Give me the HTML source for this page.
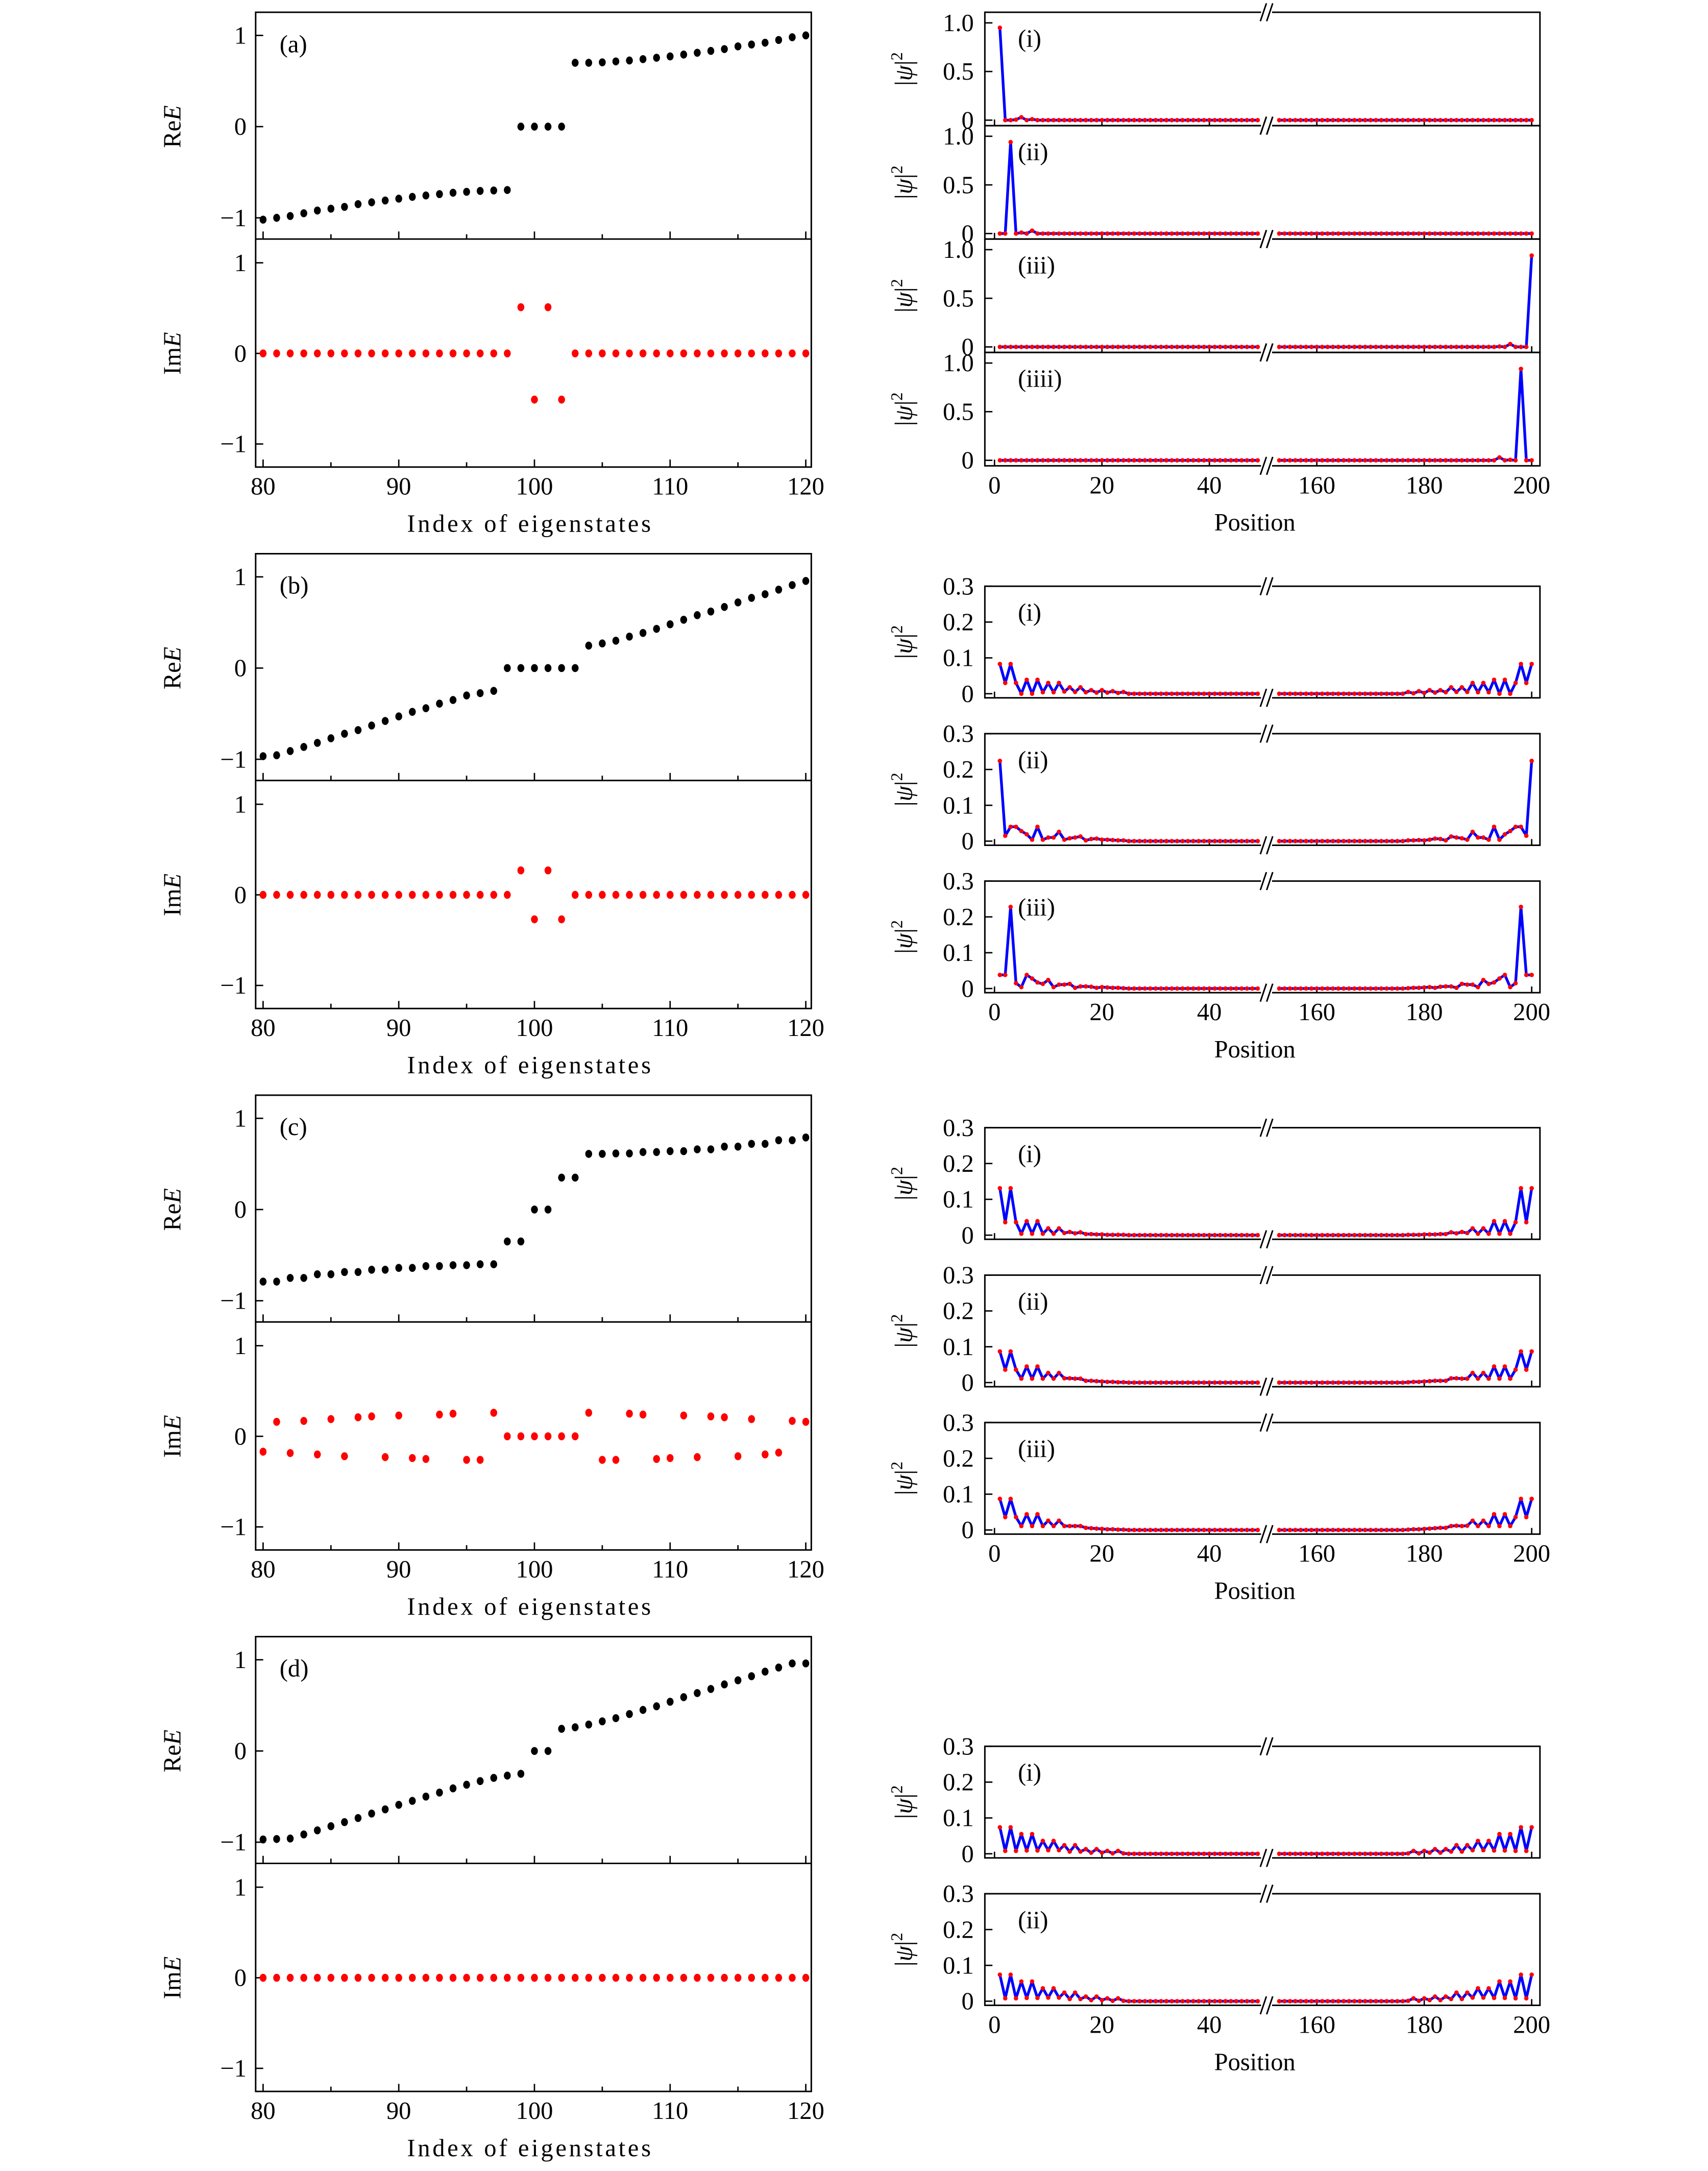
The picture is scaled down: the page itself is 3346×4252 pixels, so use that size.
<!DOCTYPE html>
<html><head><meta charset="utf-8"><title>Eigenstates figure</title>
<style>
html,body{margin:0;padding:0;background:#fff;}
svg{display:block;}
text{font-family:"Liberation Serif","DejaVu Serif",serif;fill:#000;}
</style></head>
<body>
<svg id="fig" xmlns="http://www.w3.org/2000/svg" width="3346" height="4252" viewBox="0 0 1240 1575.75">
<rect x="0" y="0" width="1240" height="1575.75" fill="#fff"/>
</svg>
<script>
// ---------- data: left panels (eigenvalues, index 80..120) ----------
const indexTicks = [80, 90, 100, 110, 120];
const eTickLabels = ["\u22121", "0", "1"];
const eTickValues = [-1, 0, 1];
const reA = [-1.02,-1.0,-0.98,-0.95,-0.92,-0.90,-0.88,-0.85,-0.83,-0.81,-0.79,-0.77,-0.755,-0.74,-0.725,-0.715,-0.705,-0.70,-0.695,0,0,0,0,0.70,0.70,0.705,0.715,0.725,0.74,0.755,0.77,0.79,0.81,0.83,0.85,0.88,0.90,0.92,0.95,0.98,1.0];
const imA = [0,0,0,0,0,0,0,0,0,0,0,0,0,0,0,0,0,0,0,0.51,-0.51,0.51,-0.51,0,0,0,0,0,0,0,0,0,0,0,0,0,0,0,0,0,0];
const reB = [-0.966,-0.956,-0.91,-0.865,-0.82,-0.77,-0.72,-0.68,-0.63,-0.58,-0.53,-0.48,-0.44,-0.39,-0.35,-0.30,-0.275,-0.25,0,0,0,0,0,0,0.246,0.27,0.30,0.345,0.385,0.43,0.48,0.53,0.58,0.62,0.67,0.72,0.77,0.81,0.86,0.91,0.955];
const imB = [0,0,0,0,0,0,0,0,0,0,0,0,0,0,0,0,0,0,0,0.27,-0.27,0.27,-0.27,0,0,0,0,0,0,0,0,0,0,0,0,0,0,0,0,0,0];
const reC = [-0.79,-0.79,-0.75,-0.75,-0.71,-0.71,-0.685,-0.685,-0.66,-0.66,-0.64,-0.64,-0.62,-0.62,-0.61,-0.61,-0.60,-0.60,-0.35,-0.35,0,0,0.35,0.35,0.61,0.61,0.615,0.615,0.63,0.63,0.64,0.64,0.66,0.66,0.69,0.69,0.72,0.72,0.76,0.76,0.79];
const imC = [-0.17,0.16,-0.185,0.17,-0.2,0.19,-0.22,0.21,0.22,-0.23,0.23,-0.24,-0.25,0.24,0.25,-0.26,-0.26,0.26,0,0,0,0,0,0,0.26,-0.26,-0.26,0.25,0.24,-0.25,-0.24,0.23,-0.23,0.22,0.21,-0.22,0.19,-0.2,-0.18,0.17,0.16];
const reD = [-0.97,-0.965,-0.96,-0.915,-0.87,-0.825,-0.78,-0.735,-0.686,-0.64,-0.59,-0.547,-0.50,-0.456,-0.41,-0.37,-0.33,-0.295,-0.27,-0.25,0,0,0.243,0.26,0.29,0.325,0.36,0.405,0.45,0.49,0.54,0.59,0.635,0.68,0.73,0.775,0.82,0.87,0.915,0.96,0.96];
const imD = [0,0,0,0,0,0,0,0,0,0,0,0,0,0,0,0,0,0,0,0,0,0,0,0,0,0,0,0,0,0,0,0,0,0,0,0,0,0,0,0,0];
const panelLetters = ["(a)", "(b)", "(c)", "(d)"];

// ---------- data: right panels (|psi|^2, sites 1..200) ----------
// head = sites 1..24, tail = sites 177..200; sites between are 0
const posTicks = [0, 20, 40, 160, 180, 200];
const posTickLabels = ["0", "20", "40", "160", "180", "200"];
const psiTicksA = [0, 0.5, 1.0];
const psiTickLabelsA = ["0", "0.5", "1.0"];
const psiTicksB = [0, 0.1, 0.2, 0.3];
const psiTickLabelsB = ["0", "0.1", "0.2", "0.3"];

const a1Head = [0.95,0,0,0.005,0.03,0,0.01,0,0,0,0,0,0,0,0,0,0,0,0,0,0,0,0,0];
const a1Tail = [0,0,0,0,0,0,0,0,0,0,0,0,0,0,0,0,0,0,0,0,0,0,0,0];
const a2Head = [0,0,0.94,0,0.01,0,0.03,0,0,0,0,0,0,0,0,0,0,0,0,0,0,0,0,0];
const a2Tail = [0,0,0,0,0,0,0,0,0,0,0,0,0,0,0,0,0,0.005,0,0.03,0,0,0,0.94];
const a3Head = [0,0,0,0,0,0,0,0,0,0,0,0,0,0,0,0,0,0,0,0,0,0,0,0];
const a4Tail = [0,0,0,0,0,0,0,0,0,0,0,0,0,0,0,0,0,0.03,0,0.005,0,0.94,0,0];

const b1Head = [0.083,0.03,0.083,0.03,0,0.039,0,0.039,0.004,0.03,0.004,0.03,0.006,0.018,0.005,0.018,0.004,0.01,0.003,0.01,0.003,0.007,0.002,0.005];
const b1Tail = [0.005,0.001,0.007,0.002,0.01,0.003,0.01,0.004,0.018,0.005,0.018,0.005,0.03,0.004,0.03,0.004,0.039,0,0.039,0,0.03,0.083,0.03,0.083];
const b2Head = [0.224,0.015,0.04,0.04,0.028,0.019,0.004,0.04,0.004,0.01,0.01,0.026,0.004,0.008,0.01,0.013,0.002,0.006,0.007,0.004,0.004,0.003,0.002,0.002];
const b2Tail = [0.002,0.002,0.003,0.002,0.004,0.007,0.006,0.002,0.013,0.01,0.008,0.004,0.026,0.01,0.01,0.004,0.04,0.004,0.019,0.028,0.04,0.04,0.015,0.224];
const b3Head = [0.038,0.038,0.228,0.015,0.004,0.038,0.028,0.017,0.013,0.024,0.004,0.011,0.011,0.013,0.002,0.006,0.006,0.005,0.002,0.004,0.003,0.002,0.002,0.001];
const b3Tail = [0.001,0.002,0.002,0.003,0.004,0.002,0.005,0.006,0.006,0.002,0.013,0.011,0.011,0.004,0.024,0.013,0.017,0.028,0.038,0.004,0.015,0.228,0.038,0.038];

const c1Head = [0.131,0.036,0.131,0.036,0.004,0.039,0.004,0.039,0.004,0.019,0.004,0.019,0.006,0.009,0.005,0.008,0.003,0.003,0.002,0.002,0.001,0.001,0.001,0.001];
const c1Tail = [0.001,0.001,0.001,0.002,0.002,0.002,0.003,0.003,0.008,0.005,0.009,0.006,0.019,0.004,0.019,0.004,0.039,0.004,0.039,0.004,0.036,0.131,0.036,0.131];
const c2Head = [0.087,0.036,0.087,0.036,0.011,0.045,0.011,0.045,0.011,0.027,0.011,0.027,0.012,0.012,0.011,0.011,0.005,0.005,0.004,0.003,0.002,0.002,0.001,0.001];
const c2Tail = [0.001,0.002,0.002,0.003,0.004,0.005,0.005,0.005,0.012,0.012,0.011,0.011,0.027,0.011,0.027,0.011,0.045,0.011,0.045,0.011,0.036,0.087,0.036,0.087];
const c3Head = [0.087,0.036,0.087,0.036,0.011,0.044,0.011,0.044,0.011,0.026,0.011,0.026,0.011,0.011,0.011,0.011,0.006,0.005,0.004,0.003,0.002,0.002,0.001,0.001];
const c3Tail = [0.001,0.002,0.002,0.003,0.004,0.005,0.006,0.006,0.011,0.012,0.011,0.012,0.026,0.011,0.026,0.011,0.044,0.011,0.044,0.011,0.036,0.087,0.036,0.087];

const d1Head = [0.074,0.008,0.074,0.008,0.055,0.009,0.055,0.009,0.036,0.01,0.036,0.01,0.024,0.006,0.024,0.006,0.013,0.003,0.013,0.003,0.008,0.001,0.008,0.001];
const d1Tail = [0.001,0.008,0.001,0.008,0.003,0.013,0.003,0.013,0.006,0.024,0.006,0.024,0.01,0.036,0.01,0.036,0.009,0.055,0.009,0.055,0.008,0.074,0.008,0.074];
const d2Head = [0.074,0.008,0.074,0.008,0.055,0.009,0.055,0.009,0.036,0.01,0.036,0.01,0.024,0.006,0.024,0.006,0.013,0.003,0.013,0.003,0.008,0.001,0.008,0.001];
const d2Tail = [0.001,0.008,0.001,0.008,0.003,0.013,0.003,0.013,0.006,0.024,0.006,0.024,0.01,0.036,0.01,0.036,0.009,0.055,0.009,0.055,0.008,0.074,0.008,0.074];

// ---------- drawing ----------
const NS = "http://www.w3.org/2000/svg";
const svg = document.getElementById("fig");
function mk(tag, attrs, parent) {
  const e = document.createElementNS(NS, tag);
  for (const k in attrs) e.setAttribute(k, attrs[k]);
  (parent || svg).appendChild(e);
  return e;
}
function txt(str, attrs, parent) {
  const t = mk("text", attrs, parent);
  t.textContent = str;
  return t;
}
const FS = 18;

// Left panel axes
const LX0 = 185.6, LX1 = 589;
function xIdx(i) { return 191 + (i - 80) * 9.85; }
function drawLeft(k, re, im) {
  const dy = 393 * k;
  const top = 8.9 + dy, mid = 173.5 + dy, bot = 339 + dy;
  const g = mk("g", {});
  
  
  const yRe = v => 91.9 + dy - v * 66.2;
  const yIm = v => 256.5 + dy - v * 65.75;
  const frame = mk("rect", {x: LX0, y: top, width: LX1 - LX0, height: bot - top, fill: "none", stroke: "#000", "stroke-width": 1.1}, g);
  
  
  const div = mk("line", {x1: LX0, x2: LX1, y1: mid, y2: mid, stroke: "#000", "stroke-width": 1.1}, g);
  
  
  // x ticks
  for (let i = 80; i <= 120; i += 5) {
    const len = (i % 10 === 0) ? 5.5 : 3.5;
    [mid, bot].forEach(yb => {
      const t = mk("line", {x1: xIdx(i), x2: xIdx(i), y1: yb, y2: yb - len, stroke: "#000", "stroke-width": 1}, g);
      
      
    });
  }
  indexTicks.forEach(v => {
    const t = txt(String(v), {x: xIdx(v), y: bot + 20, "font-size": FS, "text-anchor": "middle"}, g);
    
    
  });
  // y ticks
  eTickValues.forEach((v, j) => {
    [[yRe, 're'], [yIm, 'im']].forEach(([fy, nm]) => {
      const t = mk("line", {x1: LX0, x2: LX0 + 5.5, y1: fy(v), y2: fy(v), stroke: "#000", "stroke-width": 1}, g);
      
      
      const l = txt(eTickLabels[j], {x: 179, y: fy(v) + 6, "font-size": FS, "text-anchor": "end"}, g);
      
      
    });
  });
  // axis labels
  const reL = txt("", {x: 0, y: 0, "font-size": FS, "text-anchor": "middle", transform: "translate(131," + (91.9 + dy) + ") rotate(-90)"}, g);
  reL.innerHTML = 'Re<tspan font-style="italic">E</tspan>';
  
  
  const imL = txt("", {x: 0, y: 0, "font-size": FS, "text-anchor": "middle", transform: "translate(131," + (256.5 + dy) + ") rotate(-90)"}, g);
  imL.innerHTML = 'Im<tspan font-style="italic">E</tspan>';
  
  
  const xt = txt("Index of eigenstates", {x: 384, y: bot + 47, "font-size": FS, "text-anchor": "middle", textLength: 177}, g);
  
  
  const pl = txt(panelLetters[k], {x: 203, y: top + 29, "font-size": FS}, g);
  
  
  // points
  re.forEach((v, j) => {
    const c = mk("ellipse", {cx: xIdx(80 + j), cy: yRe(v), rx: 2.5, ry: 2.9, fill: "#000"}, g);
    
    
  });
  im.forEach((v, j) => {
    const c = mk("ellipse", {cx: xIdx(80 + j), cy: yIm(v), rx: 2.5, ry: 2.9, fill: "#ff0000"}, g);
    
    
  });
}
drawLeft(0, reA, imA);
drawLeft(1, reB, imB);
drawLeft(2, reC, imC);
drawLeft(3, reD, imD);

// Right panels
const RX0 = 715, RX1 = 1118, BRK = 919.5;
function xPos(p) { return p <= 100 ? 722 + 3.9 * p : 722 + 3.9 * (p - 100); }
function siteValues(head, tail) {
  const out = [];
  for (let p = 1; p <= 49; p++) out.push([p, p <= head.length ? head[p - 1] : 0]);
  for (let p = 153; p <= 200; p++) { const j = p - 177; out.push([p, j >= 0 ? tail[j] : 0]); }
  return out;
}
function drawBreak(g, y) {
  const w = mk("rect", {x: BRK - 4, y: y - 1.5, width: 8, height: 3, fill: "#fff"}, g);
  
  
  [-2.3, 2.3].forEach(o => {
    const l = mk("line", {x1: BRK + o - 2.2, y1: y + 6.5, x2: BRK + o + 2.2, y2: y - 6.5, stroke: "#000", "stroke-width": 1.1}, g);
    
    
  });
}
function drawPsi(top, h, scale, zeroOff, ticks, tickLabels, head, tail, label, showX, name) {
  const g = mk("g", {});
  
  
  const bot = top + h;
  const y = v => bot - zeroOff - v * scale;
  const f = mk("rect", {x: RX0, y: top, width: RX1 - RX0, height: h, fill: "none", stroke: "#000", "stroke-width": 1.1}, g);
  
  
  ticks.forEach((v, j) => {
    const t = mk("line", {x1: RX0, x2: RX0 + 5.5, y1: y(v), y2: y(v), stroke: "#000", "stroke-width": 1}, g);
    
    
    const l = txt(tickLabels[j], {x: 707, y: y(v) + 6, "font-size": FS, "text-anchor": "end"}, g);
    
    
  });
  posTicks.forEach((p, j) => {
    const t = mk("line", {x1: xPos(p), x2: xPos(p), y1: bot, y2: bot - 4.5, stroke: "#000", "stroke-width": 1}, g);
    
    
    if (showX) {
      const l = txt(posTickLabels[j], {x: xPos(p), y: bot + 20, "font-size": FS, "text-anchor": "middle"}, g);
      
      
    }
  });
  const yl = txt("", {x: 0, y: 0, "font-size": FS, "text-anchor": "middle", transform: "translate(662," + (top + h / 2) + ") rotate(-90)"}, g);
  yl.innerHTML = '|<tspan font-style="italic">ψ</tspan>|<tspan dy="-7" font-size="12">2</tspan>';
  
  
  const sl = txt(label, {x: 739, y: top + 25, "font-size": FS}, g);
  
  
  const vals = siteValues(head, tail);
  const left = vals.filter(d => d[0] <= 100), right = vals.filter(d => d[0] > 100);
  [left, right].forEach(seg => {
    const pl = mk("polyline", {points: seg.map(d => xPos(d[0]).toFixed(2) + "," + y(d[1]).toFixed(2)).join(" "), fill: "none", stroke: "#0000ff", "stroke-width": 2, "stroke-linejoin": "round"}, g);
    
    
  });
  vals.forEach(d => {
    const c = mk("circle", {cx: xPos(d[0]), cy: y(d[1]), r: 1.6, fill: "#ff0000"}, g);
    
    
  });
  drawBreak(g, top);
  drawBreak(g, bot);
  if (showX) {
    const xt = txt("Position", {x: 911, y: bot + 47, "font-size": FS, "text-anchor": "middle"}, g);
    
    
  }
}
// (a) right
const aTops = [8.9, 91.2, 173.5, 255.8];
const aH = 82.3;
drawPsi(aTops[0], aH, 70.6, 4, psiTicksA, psiTickLabelsA, a1Head, a1Tail, "(i)", false, "psi-panel-a-i");
drawPsi(aTops[1], aH, 70.6, 4, psiTicksA, psiTickLabelsA, a2Head, a1Tail, "(ii)", false, "psi-panel-a-ii");
drawPsi(aTops[2], aH, 70.6, 4, psiTicksA, psiTickLabelsA, a3Head, a2Tail, "(iii)", false, "psi-panel-a-iii");
drawPsi(aTops[3], aH, 70.6, 4, psiTicksA, psiTickLabelsA, a3Head, a4Tail, "(iiii)", true, "psi-panel-a-iiii");
// (b), (c), (d) right
const sH = 81, sScale = 260;
drawPsi(425.5, sH, sScale, 3, psiTicksB, psiTickLabelsB, b1Head, b1Tail, "(i)", false, "psi-panel-b-i");
drawPsi(532.5, sH, sScale, 3, psiTicksB, psiTickLabelsB, b2Head, b2Tail, "(ii)", false, "psi-panel-b-ii");
drawPsi(639.5, sH, sScale, 3, psiTicksB, psiTickLabelsB, b3Head, b3Tail, "(iii)", true, "psi-panel-b-iii");
drawPsi(818.5, sH, sScale, 3, psiTicksB, psiTickLabelsB, c1Head, c1Tail, "(i)", false, "psi-panel-c-i");
drawPsi(925.5, sH, sScale, 3, psiTicksB, psiTickLabelsB, c2Head, c2Tail, "(ii)", false, "psi-panel-c-ii");
drawPsi(1032.5, sH, sScale, 3, psiTicksB, psiTickLabelsB, c3Head, c3Tail, "(iii)", true, "psi-panel-c-iii");
drawPsi(1267.5, sH, sScale, 3, psiTicksB, psiTickLabelsB, d1Head, d1Tail, "(i)", false, "psi-panel-d-i");
drawPsi(1374.5, sH, sScale, 3, psiTicksB, psiTickLabelsB, d2Head, d2Tail, "(ii)", true, "psi-panel-d-ii");
</script>
</body></html>
